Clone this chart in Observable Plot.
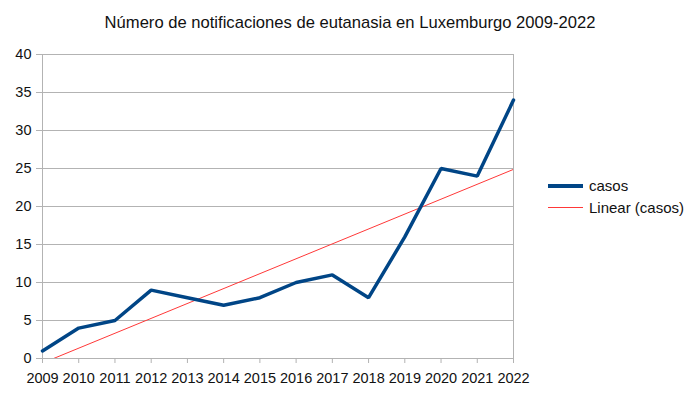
<!DOCTYPE html>
<html>
<head>
<meta charset="utf-8">
<script src="https://cdn.jsdelivr.net/npm/d3@7"></script>
<script src="https://cdn.jsdelivr.net/npm/@observablehq/plot@0.6"></script>
<style>
  html, body { margin: 0; padding: 0; background: #fff; }
  #wrap { position: relative; width: 700px; height: 394px; font-family: "Liberation Sans", Arial, sans-serif; }
  #title { position: absolute; left: 0; top: 13px; width: 700px; text-align: center; font-size: 16.6px; color: #111; white-space: nowrap; }
  #legend { position: absolute; left: 548px; top: 175px; font-size: 15px; color: #111; }
  .item { display: flex; align-items: center; height: 21.5px; }
  .sw { width: 35px; margin-right: 6px; }
  #chart { position: absolute; left: 0; top: 0; }
</style>
</head>
<body>
<div id="wrap">
  <div id="chart"></div>
  <div id="title">Número de notificaciones de eutanasia en Luxemburgo 2009-2022</div>
  <div id="legend"></div>
</div>
<script>
const years = [2009, 2010, 2011, 2012, 2013, 2014, 2015, 2016, 2017, 2018, 2019, 2020, 2021, 2022];
const casos = [1, 4, 5, 9, 8, 7, 8, 10, 11, 8, 16, 25, 24, 34];
const yTicks = [0, 5, 10, 15, 20, 25, 30, 35, 40];
const seriesNames = ["casos", "Linear (casos)"];
const seriesColors = ["#004586", "#ff3838"];

const data = years.map((year, i) => ({ year, value: casos[i] }));

const plot = Plot.plot({
  width: 700,
  height: 394,
  marginLeft: 42,
  marginRight: 187,
  marginTop: 54,
  marginBottom: 36,
  style: { fontFamily: "Liberation Sans, Arial, sans-serif", fontSize: "14.5px", color: "#111", background: "#fff" },
  x: { type: "linear", domain: d3.extent(years), label: null },
  y: { domain: [0, 40], label: null },
  marks: [
    Plot.gridY(yTicks, { stroke: "#b3b3b3", strokeOpacity: 1 }),
    Plot.ruleX(d3.extent(years), { stroke: "#b3b3b3" }),
    Plot.ruleY([0], { stroke: "#b3b3b3" }),
    Plot.axisX({ ticks: years, tickFormat: d => String(d), tickSize: 5, tickPadding: 9, stroke: "#b3b3b3", fill: "#111", label: null }),
    Plot.axisY({ ticks: yTicks, tickSize: 6, tickPadding: 5, stroke: "#b3b3b3", fill: "#111", label: null }),
    Plot.linearRegressionY(data, { x: "year", y: "value", stroke: seriesColors[1], strokeWidth: 1, ci: 0, clip: true }),
    Plot.line(data, { x: "year", y: "value", stroke: seriesColors[0], strokeWidth: 3.5, strokeLinejoin: "miter" })
  ]
});
document.getElementById("chart").appendChild(plot);

const legend = document.getElementById("legend");
seriesNames.forEach((name, i) => {
  const item = document.createElement("div");
  item.className = "item";
  const sw = document.createElement("div");
  sw.className = "sw";
  sw.style.height = i === 0 ? "4px" : "1px";
  sw.style.background = seriesColors[i];
  const label = document.createElement("span");
  label.textContent = name;
  item.appendChild(sw);
  item.appendChild(label);
  legend.appendChild(item);
});
</script>
</body>
</html>
